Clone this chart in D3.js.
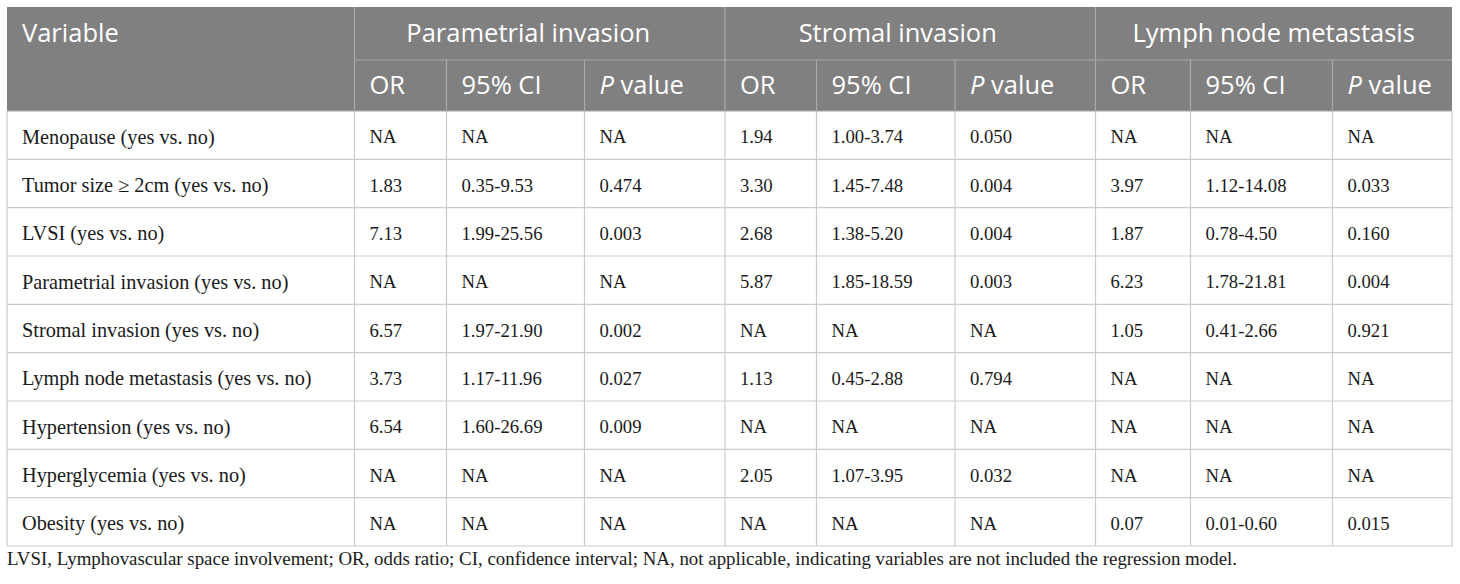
<!DOCTYPE html>
<html>
<head>
<meta charset="utf-8">
<script src="https://cdn.jsdelivr.net/npm/d3@7"></script>
<style>
  body { margin: 0; background: #fff; }
  svg { display: block; }
</style>
</head>
<body>
<svg width="1460" height="584"></svg>
<script>
const width = 1460;
const height = 584;

// table content
const variables = [
  "Menopause (yes vs. no)",
  "Tumor size \u2265 2cm (yes vs. no)",
  "LVSI (yes vs. no)",
  "Parametrial invasion (yes vs. no)",
  "Stromal invasion (yes vs. no)",
  "Lymph node metastasis (yes vs. no)",
  "Hypertension (yes vs. no)",
  "Hyperglycemia (yes vs. no)",
  "Obesity (yes vs. no)"
];
const groups = ["Parametrial invasion", "Stromal invasion", "Lymph node metastasis"];
const subHeaders = ["OR", "95% CI", "P value"];

const parametrialOR = ["NA", "1.83", "7.13", "NA", "6.57", "3.73", "6.54", "NA", "NA"];
const parametrialCI = ["NA", "0.35-9.53", "1.99-25.56", "NA", "1.97-21.90", "1.17-11.96", "1.60-26.69", "NA", "NA"];
const parametrialP = ["NA", "0.474", "0.003", "NA", "0.002", "0.027", "0.009", "NA", "NA"];

const stromalOR = ["1.94", "3.30", "2.68", "5.87", "NA", "1.13", "NA", "2.05", "NA"];
const stromalCI = ["1.00-3.74", "1.45-7.48", "1.38-5.20", "1.85-18.59", "NA", "0.45-2.88", "NA", "1.07-3.95", "NA"];
const stromalP = ["0.050", "0.004", "0.004", "0.003", "NA", "0.794", "NA", "0.032", "NA"];

const lymphOR = ["NA", "3.97", "1.87", "6.23", "1.05", "NA", "NA", "NA", "0.07"];
const lymphCI = ["NA", "1.12-14.08", "0.78-4.50", "1.78-21.81", "0.41-2.66", "NA", "NA", "NA", "0.01-0.60"];
const lymphP = ["NA", "0.033", "0.160", "0.004", "0.921", "NA", "NA", "NA", "0.015"];

const footnote = "LVSI, Lymphovascular space involvement; OR, odds ratio; CI, confidence interval; NA, not applicable, indicating variables are not included the regression model.";

const columns = [variables,
  parametrialOR, parametrialCI, parametrialP,
  stromalOR, stromalCI, stromalP,
  lymphOR, lymphCI, lymphP];

// layout
const colEdges = [7, 354.5, 446.5, 584.5, 725, 816.5, 955, 1095.5, 1190.5, 1332.5, 1452];
const groupShift = [-11.5, -12.5, 0]; // group titles sit a little left of centre
const tableTop = 7, headMid = 60, headBottom = 111, tableBottom = 546;
const pad = 15;
const headFill = "#808080";
const headLine = "#a8a8a8";
const bodyLine = "#cbcbcb";
const serif = "'Liberation Serif', 'Times New Roman', serif";
const headFont = "'Open Sans', 'Noto Sans', sans-serif";

const svg = d3.select("svg");

const y = d3.scaleBand()
  .domain(d3.range(variables.length))
  .range([headBottom, tableBottom]);

// header background
svg.append("rect")
  .attr("x", colEdges[0])
  .attr("y", tableTop)
  .attr("width", colEdges[10] - colEdges[0])
  .attr("height", headBottom - tableTop)
  .style("fill", headFill);

// body horizontal lines
svg.selectAll("line.row")
  .data(d3.range(variables.length))
  .enter().append("line")
  .attr("class", "row")
  .attr("x1", colEdges[0])
  .attr("x2", colEdges[10])
  .attr("y1", d => y(d) + y.bandwidth())
  .attr("y2", d => y(d) + y.bandwidth())
  .style("stroke", bodyLine)
  .style("stroke-width", 1.2);

// body vertical lines
svg.selectAll("line.col")
  .data(colEdges)
  .enter().append("line")
  .attr("class", "col")
  .attr("x1", d => d)
  .attr("x2", d => d)
  .attr("y1", headBottom)
  .attr("y2", tableBottom)
  .style("stroke", bodyLine)
  .style("stroke-width", 1.2);

// header lines
svg.append("line")
  .attr("x1", colEdges[1]).attr("x2", colEdges[10])
  .attr("y1", headMid).attr("y2", headMid)
  .style("stroke", headLine).style("stroke-width", 1.2);

svg.append("line")
  .attr("x1", colEdges[0]).attr("x2", colEdges[10])
  .attr("y1", headBottom).attr("y2", headBottom)
  .style("stroke", headLine).style("stroke-width", 1.2);

svg.selectAll("line.head")
  .data(colEdges.slice(1, 10))
  .enter().append("line")
  .attr("class", "head")
  .attr("x1", d => d)
  .attr("x2", d => d)
  .attr("y1", (d, i) => i % 3 === 0 ? tableTop : headMid)
  .attr("y2", headBottom)
  .style("stroke", headLine)
  .style("stroke-width", 1.2);

// header text
svg.append("text")
  .attr("x", colEdges[0] + pad)
  .attr("y", (tableTop + headMid) / 2)
  .attr("dy", "0.35em")
  .text("Variable")
  .style("font-family", headFont)
  .style("font-size", "25.5px")
  .style("fill", "#fff");

svg.selectAll("text.group")
  .data(groups)
  .enter().append("text")
  .attr("class", "group")
  .attr("x", (d, i) => (colEdges[1 + i * 3] + colEdges[4 + i * 3]) / 2 + groupShift[i])
  .attr("y", (tableTop + headMid) / 2)
  .attr("dy", "0.35em")
  .attr("text-anchor", "middle")
  .text(d => d)
  .style("font-family", headFont)
  .style("font-size", "25.5px")
  .style("fill", "#fff");

const subs = svg.selectAll("text.sub")
  .data(d3.range(9))
  .enter().append("text")
  .attr("class", "sub")
  .attr("x", d => colEdges[d + 1] + pad)
  .attr("y", (headMid + headBottom) / 2)
  .attr("dy", "0.35em")
  .style("font-family", headFont)
  .style("font-size", "25.5px")
  .style("fill", "#fff");

subs.each(function(d) {
  const label = subHeaders[d % 3];
  const t = d3.select(this);
  if (label.startsWith("P ")) {
    t.append("tspan").style("font-style", "italic").text("P");
    t.append("tspan").text(label.slice(1));
  } else {
    t.text(label);
  }
});

// body cells
const cells = [];
columns.forEach((col, c) => {
  col.forEach((v, r) => cells.push({c, r, v}));
});

svg.selectAll("text.cell")
  .data(cells)
  .enter().append("text")
  .attr("class", "cell")
  .attr("x", d => colEdges[d.c] + pad)
  .attr("y", d => y(d.r) + y.bandwidth() / 2 + 1.5)
  .attr("dy", "0.35em")
  .text(d => d.v)
  .style("font-family", serif)
  .style("font-size", d => d.c === 0 ? "20.3px" : "18.7px")
  .style("fill", "#1a1a1a");

// footnote
svg.append("text")
  .attr("x", colEdges[0])
  .attr("y", 565)
  .text(footnote)
  .style("font-family", serif)
  .style("font-size", "18.9px")
  .style("fill", "#1a1a1a");
</script>
</body>
</html>
